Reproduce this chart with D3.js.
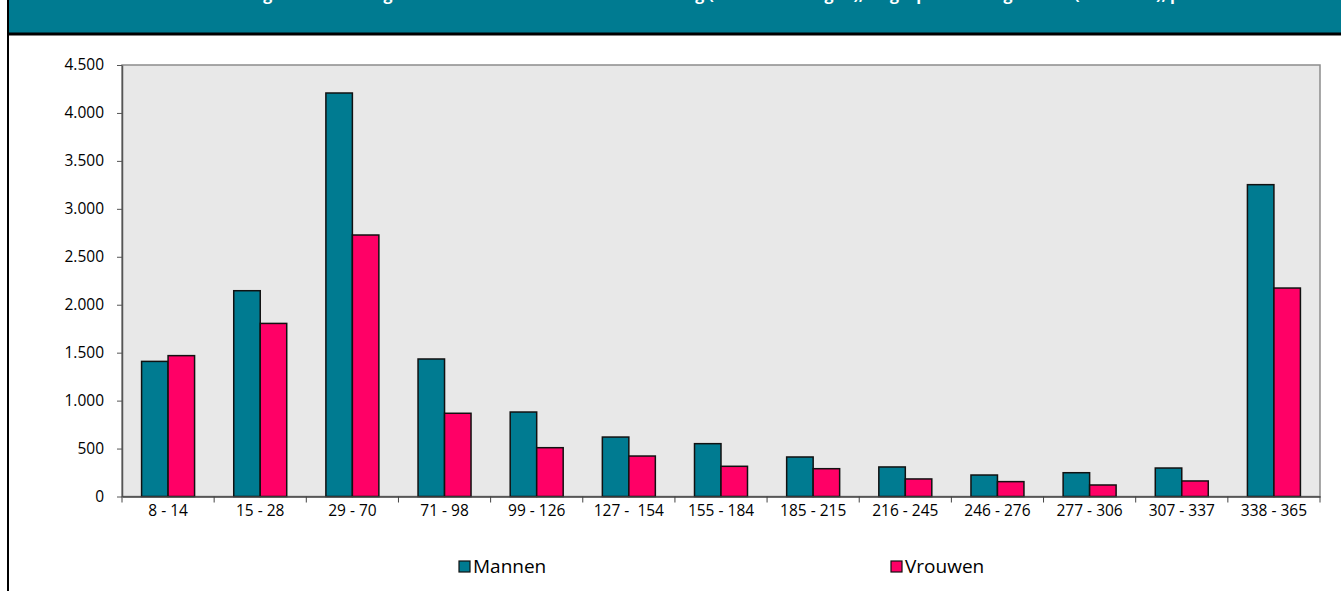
<!DOCTYPE html>
<html>
<head>
<meta charset="utf-8">
<script src="https://cdn.jsdelivr.net/npm/d3@7"></script>
<style>
  body { margin: 0; background: #fff; }
  svg { display: block; font-family: 'Open Sans', sans-serif; }
  .tick text { fill: #000; font-size: 15.5px; font-family: 'Open Sans', sans-serif; }
  .legend-label { font-size: 19px; fill: #000; }
</style>
</head>
<body>
<div id="chart"></div>
<script>
const categories = ['8 - 14', '15 - 28', '29 - 70', '71 - 98', '99 - 126', '127 -  154', '155 - 184',
  '185 - 215', '216 - 245', '246 - 276', '277 - 306', '307 - 337', '338 - 365'];
const seriesNames = ['Mannen', 'Vrouwen'];
const mannen = [1409, 2146, 4208, 1434, 881, 620, 551, 412, 308, 224, 248, 297, 3252];
const vrouwen = [1469, 1805, 2727, 868, 509, 422, 315, 290, 183, 155, 120, 162, 2174];
const yTicks = [0, 500, 1000, 1500, 2000, 2500, 3000, 3500, 4000, 4500];
const titleText = 'Aantal beëindigde ziekmeldingen naar duurklasse van de ziekmelding (in kalenderdagen), uitgesplitst naar geslacht (aantallen), peildatum 2009';

const W = 1341, H = 591;
const margin = { top: 65, right: 21, bottom: 94.5, left: 122 };
const width = W - margin.left - margin.right,
      height = H - margin.top - margin.bottom;
const colors = { Mannen: '#007B91', Vrouwen: '#FF0066' };

const rows = categories.map((c, i) => ({ cat: c, Mannen: mannen[i], Vrouwen: vrouwen[i] }));

const nl = d3.formatLocale({ decimal: ',', thousands: '.', grouping: [3], currency: ['', ''] });
const fmt = nl.format(',d');

const svg = d3.select('#chart').append('svg')
  .attr('width', W)
  .attr('height', H);

// header band (title runs off the top, as in the original)
svg.append('rect')
  .attr('x', 8).attr('y', 0)
  .attr('width', W - 8).attr('height', 33)
  .style('fill', '#007B91');
svg.append('text')
  .attr('x', 720).attr('y', 0)
  .attr('text-anchor', 'middle')
  .style('fill', '#fff')
  .style('font-weight', 'bold')
  .style('font-size', '16px')
  .text(titleText);
svg.append('line')
  .attr('x1', 7).attr('x2', W)
  .attr('y1', 34).attr('y2', 34)
  .style('stroke', '#000').style('stroke-width', 3);
svg.append('line')
  .attr('x1', 8).attr('x2', 8)
  .attr('y1', 0).attr('y2', H)
  .style('stroke', '#000').style('stroke-width', 2);

const x0 = d3.scaleBand()
  .domain(categories)
  .range([0, width])
  .paddingInner(0.425)
  .paddingOuter(0.2125);
const x1 = d3.scaleBand()
  .domain(seriesNames)
  .range([0, x0.bandwidth()]);
const y = d3.scaleLinear()
  .domain([0, 4500])
  .range([height, 0]);

const g = svg.append('g')
  .attr('transform', 'translate(' + margin.left + ',' + margin.top + ')');

// plot area
g.append('rect')
  .attr('width', width).attr('height', height)
  .style('fill', '#E8E8E8')
  .style('stroke', '#8C8C8C')
  .style('stroke-width', 1.5);

// bars
g.selectAll('g.group').data(rows)
  .enter().append('g')
    .attr('class', 'group')
    .attr('transform', d => 'translate(' + x0(d.cat) + ',0)')
  .selectAll('rect').data(d => seriesNames.map(k => ({ key: k, value: d[k] })))
  .enter().append('rect')
    .attr('x', d => x1(d.key))
    .attr('y', d => y(d.value))
    .attr('width', x1.bandwidth())
    .attr('height', d => height - y(d.value))
    .style('fill', d => colors[d.key])
    .style('stroke', '#111')
    .style('stroke-width', 1.5);

// y axis
const yAxis = g.append('g')
  .call(d3.axisLeft(y).tickValues(yTicks).tickFormat(fmt).tickSize(5).tickSizeOuter(0).tickPadding(13));
yAxis.select('.domain').style('stroke', '#555').style('stroke-width', 1.5);
yAxis.selectAll('.tick line').style('stroke', '#555');

// x axis: ticks sit on the category boundaries
const xAxis = g.append('g')
  .attr('transform', 'translate(0,' + height + ')')
  .call(d3.axisBottom(x0).tickSize(0).tickPadding(8));
xAxis.select('.domain').style('stroke', '#444').style('stroke-width', 1.5);
xAxis.selectAll('.tick text').style('white-space', 'pre');

const step = x0.step();
g.append('g')
  .attr('transform', 'translate(0,' + height + ')')
  .selectAll('line').data(d3.range(categories.length + 1))
  .enter().append('line')
    .attr('x1', i => i * step).attr('x2', i => i * step)
    .attr('y1', 0).attr('y2', 6)
    .style('stroke', '#444');

// legend
const legendX = { Mannen: 459, Vrouwen: 891 };
const legend = svg.selectAll('g.legend').data(seriesNames)
  .enter().append('g')
    .attr('class', 'legend')
    .attr('transform', d => 'translate(' + legendX[d] + ',561)');
legend.append('rect')
  .attr('width', 11).attr('height', 11)
  .style('fill', d => colors[d])
  .style('stroke', '#111')
  .style('stroke-width', 1.2);
legend.append('text')
  .attr('class', 'legend-label')
  .attr('x', 14).attr('y', 12)
  .text(d => d);
</script>
</body>
</html>
